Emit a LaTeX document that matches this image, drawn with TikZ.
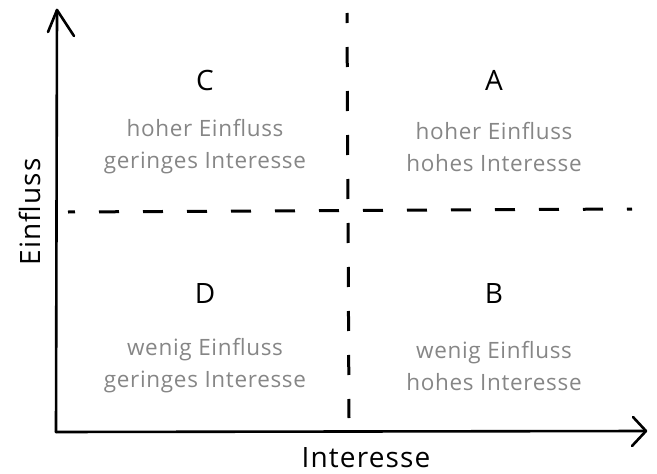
\documentclass[tikz,border=0pt]{standalone}
\usepackage{fontspec}
\setmainfont{Open Sans}
\begin{document}
\begin{tikzpicture}[x=1pt,y=-1pt,
  axisline/.style={line width=2.6pt,line cap=round,line join=round},
  divider/.style={line width=3pt,dash pattern=on 20pt off 24pt},
  letter/.style={font=\fontsize{28}{30}\selectfont,text=black},
  desc/.style={font=\fontsize{22.5}{32}\selectfont\addfontfeature{LetterSpace=3},text={rgb,255:red,134;green,134;blue,134},align=center},
  axlabel/.style={font=\fontsize{28}{30}\selectfont\addfontfeature{LetterSpace=4}}]
\useasboundingbox (0,0) rectangle (657,474);
% coordinates
\coordinate (o) at (56,432);
\coordinate (ytip) at (57,10);
\coordinate (xtip) at (646,431);
\coordinate (vtop) at (347,13);
\coordinate (vbot) at (349,418);
\coordinate (hl) at (68,212);
\coordinate (hr) at (632,209);
% dividers
\draw[divider,dash phase=10pt] (vtop) -- (vbot);
\draw[divider,dash phase=13pt] (hl) -- (hr);
% axes
\draw[axisline] (o) -- (ytip);
\draw[axisline] (48,32) -- (ytip) -- (74,36);
\draw[axisline] (o) -- (xtip);
\draw[axisline] (633,417) -- (xtip) -- (632,446);
% labels
\node[letter] (C) at (205,80) {C};
\node[letter] (A) at (494,80) {A};
\node[letter] (D) at (205,294) {D};
\node[letter] (B) at (494,294) {B};
\node[desc] (c) at (205,147) {hoher Einfluss\\geringes Interesse};
\node[desc] (a) at (494,147) {hoher Einfluss\\hohes Interesse};
\node[desc] (d) at (205,366) {wenig Einfluss\\geringes Interesse};
\node[desc] (b) at (494,366) {wenig Einfluss\\hohes Interesse};
\node[axlabel,rotate=90] (ylab) at (30,212) {Einfluss};
\node[axlabel] (xlab) at (366,458) {Interesse};
\end{tikzpicture}
\end{document}
